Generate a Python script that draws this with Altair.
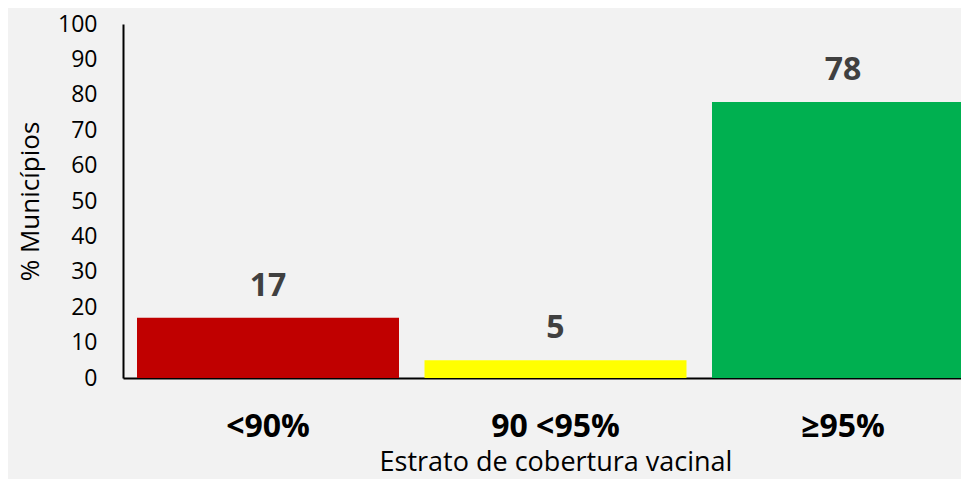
import altair as alt
import pandas as pd

categories = ["<90%", "90 <95%", "≥95%"]
values = [17, 5, 78]
colors = ["#C00000", "#FFFF00", "#00B050"]
y_ticks = [0, 10, 20, 30, 40, 50, 60, 70, 80, 90, 100]

df = pd.DataFrame({"cat": categories, "val": values, "color": colors})

FONT = "Open Sans"

x_enc = alt.X(
    "cat:N",
    sort=categories,
    scale=alt.Scale(range=[0, 865], paddingInner=0.0887, paddingOuter=0.0487),
    axis=alt.Axis(
        title="Estrato de cobertura vacinal",
        labelAngle=0,
        labelFont=FONT,
        labelFontSize=32,
        labelFontWeight="bold",
        labelColor="#000000",
        labelPadding=33,
        ticks=False,
        domainColor="#000000",
        domainWidth=2,
        titleFont=FONT,
        titleFontSize=27,
        titleFontWeight="normal",
        titleColor="#000000",
        titleBaseline="alphabetic",
        titleY=92,
    ),
)

y_enc = alt.Y(
    "val:Q",
    scale=alt.Scale(domain=[0, 100], nice=False),
    axis=alt.Axis(
        title="% Municípios",
        values=y_ticks,
        tickCount=11,
        grid=False,
        ticks=False,
        labelOverlap=False,
        labelFlush=False,
        labelBaseline="middle",
        labelFont=FONT,
        labelFontSize=23,
        labelColor="#000000",
        labelPadding=26,
        domainColor="#000000",
        domainWidth=2,
        titleFont=FONT,
        titleFontSize=26,
        titleFontWeight="normal",
        titleColor="#000000",
        titleBaseline="alphabetic",
        titleX=-85,
    ),
)

base = alt.Chart(df).encode(x=x_enc, y=y_enc)

bars = base.mark_bar(size=262).encode(
    color=alt.Color("color:N", scale=None),
)

labels = base.mark_text(
    font=FONT,
    fontSize=32,
    fontWeight="bold",
    color="#404040",
    baseline="alphabetic",
    dy=-22,
).encode(
    text=alt.Text("val:Q"),
)

chart = (
    alt.layer(bars, labels)
    .properties(
        width=838,
        height=354,
        background="#F2F2F2",
        autosize=alt.AutoSizeParams(type="none"),
        padding={"left": 115, "top": 16, "right": 0, "bottom": 101},
    )
    .configure_view(stroke=None)
)

chart.save("out.html", embed_options={"renderer": "svg", "actions": False})
